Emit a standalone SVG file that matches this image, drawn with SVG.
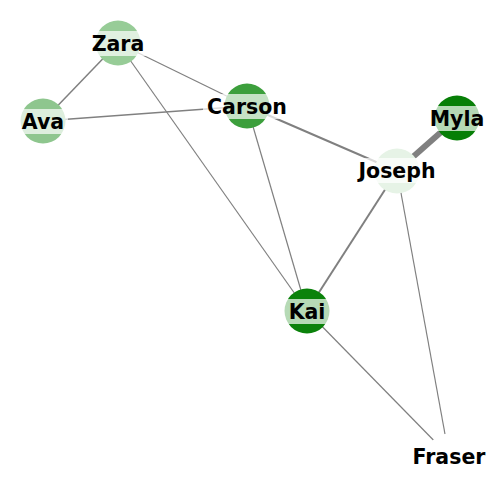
<svg xmlns="http://www.w3.org/2000/svg" width="500" height="500" viewBox="0 0 500 500">
<style>
.e{stroke:#808080;stroke-linecap:butt;fill:none}
.n{stroke:none}
.bb{fill:#ffffff;fill-opacity:0.7}
.t{font-family:"DejaVu Sans",sans-serif;font-weight:bold;font-size:20.5px;fill:#000000;text-anchor:middle}
</style>
<rect width="500" height="500" fill="#ffffff"/>
<g id="edges">
<line class="e" x1="118" y1="43" x2="43" y2="121" stroke-width="1.5"/>
<line class="e" x1="118" y1="43" x2="247" y2="106" stroke-width="1.2"/>
<line class="e" x1="118" y1="43" x2="307" y2="311" stroke-width="1.2"/>
<line class="e" x1="43" y1="121" x2="247" y2="106" stroke-width="1.3"/>
<line class="e" x1="247" y1="106" x2="397" y2="171" stroke-width="2"/>
<line class="e" x1="247" y1="106" x2="307" y2="311" stroke-width="1.2"/>
<line class="e" x1="397" y1="171" x2="457" y2="118" stroke-width="6"/>
<line class="e" x1="397" y1="171" x2="307" y2="311" stroke-width="2"/>
<line class="e" x1="397" y1="171" x2="449" y2="456" stroke-width="1.2"/>
<line class="e" x1="307" y1="311" x2="449" y2="456" stroke-width="1.2"/>
</g>
<g id="node-Zara"><circle class="n" cx="118" cy="43" r="22.5" fill="#97cc97"/><rect class="bb" x="88" y="31" width="60" height="25"/><text class="t" x="118" y="50.5">Zara</text></g>
<g id="node-Ava"><circle class="n" cx="43" cy="121" r="22.5" fill="#8ec68e"/><rect class="bb" x="18" y="109" width="50" height="25"/><text class="t" x="43" y="128.5">Ava</text></g>
<g id="node-Carson"><circle class="n" cx="247" cy="106" r="22.5" fill="#3c9f3c"/><rect class="bb" x="203" y="94" width="88" height="25"/><text class="t" x="247" y="113.5">Carson</text></g>
<g id="node-Myla"><circle class="n" cx="457" cy="118" r="22.5" fill="#077f07"/><rect class="bb" x="427" y="106" width="60" height="25"/><text class="t" x="457" y="125.5">Myla</text></g>
<g id="node-Joseph"><circle class="n" cx="397" cy="171" r="22.5" fill="#e6f3e6"/><rect class="bb" x="355" y="158" width="84" height="25"/><text class="t" x="397" y="177.5">Joseph</text></g>
<g id="node-Kai"><circle class="n" cx="307" cy="311" r="22.5" fill="#0b820b"/><rect class="bb" x="283" y="299" width="48" height="25"/><text class="t" x="307" y="318.5">Kai</text></g>
<g id="node-Fraser"><circle class="n" cx="449" cy="456" r="22.5" fill="#ffffff"/><rect class="bb" x="409" y="444" width="80" height="25"/><text class="t" x="449" y="463.5">Fraser</text></g>
</svg>
